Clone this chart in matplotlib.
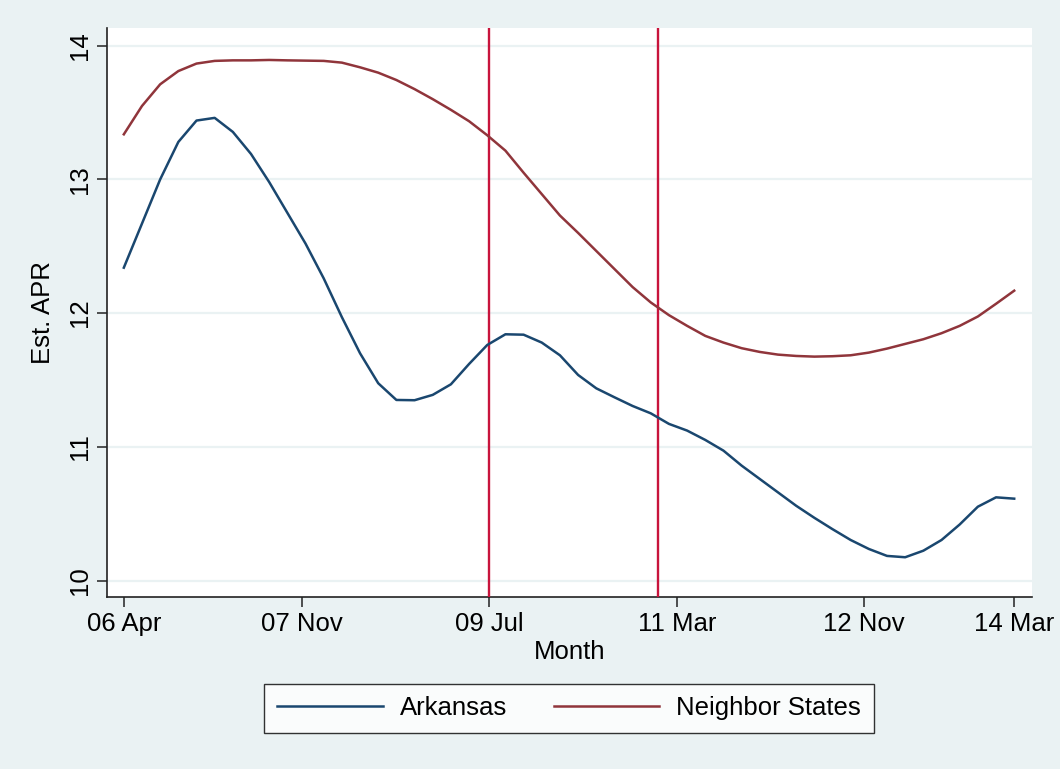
import matplotlib
matplotlib.use("Agg")
import matplotlib.pyplot as plt
import numpy as np

# months since 2006m4, 50 evenly spaced estimates up to 2014m3
month = np.linspace(0, 95, 50)

arkansas = [12.34, 12.67, 13.00, 13.28, 13.44, 13.46, 13.355, 13.19, 12.98, 12.75,
            12.52, 12.26, 11.97, 11.70, 11.476, 11.351, 11.349, 11.389, 11.468, 11.62,
            11.762, 11.842, 11.839, 11.78, 11.685, 11.538, 11.438, 11.371, 11.306, 11.251,
            11.172, 11.122, 11.052, 10.972, 10.86, 10.76, 10.66, 10.56, 10.47, 10.385,
            10.304, 10.237, 10.185, 10.175, 10.224, 10.304, 10.42, 10.553, 10.623, 10.613]

neighbors = [13.337, 13.549, 13.711, 13.81, 13.866, 13.886, 13.89, 13.89, 13.893, 13.89,
             13.888, 13.886, 13.873, 13.838, 13.798, 13.743, 13.675, 13.60, 13.52, 13.435,
             13.33, 13.215, 13.05, 12.89, 12.73, 12.60, 12.465, 12.33, 12.195, 12.08,
             11.985, 11.905, 11.83, 11.78, 11.738, 11.71, 11.69, 11.68, 11.675, 11.678,
             11.685, 11.705, 11.735, 11.77, 11.805, 11.85, 11.905, 11.975, 12.07, 12.168]

tick_pos = [0, 19, 39, 59, 79, 95]
tick_lab = ["06 Apr", "07 Nov", "09 Jul", "11 Mar", "12 Nov", "14 Mar"]
events = [39, 57]  # 2009m7, 2011m1

bg = "#EAF2F3"
fs = 18.5
plt.rcParams['font.family'] = ['Liberation Sans', 'DejaVu Sans']

fig = plt.figure(figsize=(10.6, 7.69), dpi=100, facecolor=bg)
ax = fig.add_axes([0.1009, 0.2237, 0.8727, 0.7399])
ax.set_facecolor("white")

for e in events:
    ax.axvline(e, color="#C8143C", lw=1.7, zorder=3)

ax.plot(month, arkansas, color="#1A476F", lw=1.8, label="Arkansas", zorder=4)
ax.plot(month, neighbors, color="#90353B", lw=1.8, label="Neighbor States", zorder=4)

ax.set_xlim(-1.8, 96.9)
ax.set_ylim(9.878, 14.132)
ax.set_yticks([10, 11, 12, 13, 14])
ax.set_xticks(tick_pos)
ax.set_xticklabels(tick_lab)
ax.grid(axis="y", color="#EAF2F3", lw=1.6)
ax.set_axisbelow(True)

for s in ["top", "right"]:
    ax.spines[s].set_visible(False)
for s in ["left", "bottom"]:
    ax.spines[s].set_color("#222222")
    ax.spines[s].set_linewidth(1.2)

ax.tick_params(axis="both", labelsize=fs, length=7, width=1.1, color="#222222")
ax.tick_params(axis="x", pad=4)
ax.tick_params(axis="y", pad=4)
for t in ax.get_yticklabels():
    t.set_rotation(90)
    t.set_va("center")

ax.set_xlabel("Month", fontsize=fs, labelpad=3)
ax.set_ylabel("Est. APR", fontsize=fs, labelpad=9)

leg = fig.legend(loc="center", bbox_to_anchor=(0.537, 0.0787), ncol=2, fontsize=fs,
                 frameon=True, fancybox=False, edgecolor="black", handlelength=4.1,
                 handletextpad=0.68, columnspacing=1.8, borderpad=0.5)
leg.get_frame().set_linewidth(1.0)

fig.savefig("out.png", dpi=100, facecolor=bg)
